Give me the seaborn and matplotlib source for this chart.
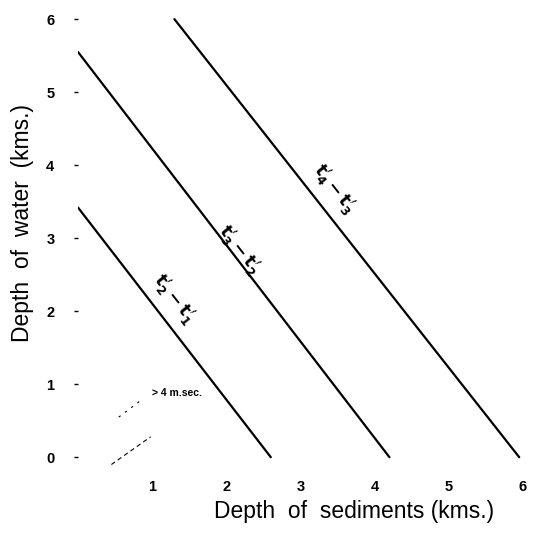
import matplotlib
matplotlib.use("Agg")
import matplotlib.pyplot as plt
import pandas as pd
import seaborn as sns

# end points of the three travel-time difference lines (sediments km, water km)
line_names = ["t2-t1", "t3-t2", "t4-t3"]
sed_km = [[0.0, 2.6], [0.0, 4.2], [1.3, 5.95]]
water_km = [[3.42, 0.0], [5.55, 0.0], [6.0, 0.0]]

line_labels = [r"$t_2' - t_1'$", r"$t_3' - t_2'$", r"$t_4' - t_3'$"]
label_x = [1.3, 2.17, 3.45]
label_y = [2.17, 2.84, 3.67]

ticks = [0, 1, 2, 3, 4, 5, 6]

sns.set_style("white")
plt.rcParams["font.family"] = ["Liberation Sans", "DejaVu Sans"]
plt.rcParams["text.color"] = "black"
plt.rcParams["xtick.color"] = "black"
plt.rcParams["ytick.color"] = "black"
plt.rcParams["axes.labelcolor"] = "black"
plt.rcParams["mathtext.default"] = "bf"

rows = []
for name, xs, ys in zip(line_names, sed_km, water_km):
    for x, y in zip(xs, ys):
        rows.append({"line": name, "sediments": x, "water": y})
df = pd.DataFrame(rows)

fig = plt.figure(figsize=(5.38, 5.38), dpi=100)
ax = fig.add_axes([0.145, 0.123, 0.827, 0.855])

sns.lineplot(data=df, x="sediments", y="water", units="line", estimator=None,
             color="black", lw=1.6, ax=ax, legend=False)

for txt, x, y in zip(line_labels, label_x, label_y):
    ax.text(x, y, txt, rotation=-52, ha="center", va="center", fontsize=12.5,
            color="black", rotation_mode="anchor")

ax.text(1.0, 0.88, "> 4 m.sec.", fontsize=7.5, fontweight="bold",
        ha="left", va="center")
# faint dashed boundary near origin
ax.plot([0.45, 0.98], [-0.1, 0.28], color="black", lw=0.8, ls=(0, (4, 3)))
ax.plot([0.55, 0.85], [0.55, 0.78], color="black", lw=0.8, ls=(0, (2, 5)))

ax.set_xlim(0, 6)
ax.set_ylim(-0.2, 6.1)
ax.set_xticks(ticks[1:])
ax.set_yticks(ticks)
sns.despine(ax=ax, left=True, bottom=True)
ax.tick_params(axis="y", left=True, length=3, width=1, pad=14, labelsize=10.5)
ax.tick_params(axis="x", bottom=False, length=0, pad=6, labelsize=10.5)
for lab in ax.get_xticklabels() + ax.get_yticklabels():
    lab.set_fontweight("bold")

ax.set_xlabel("Depth  of  sediments (kms.)", fontsize=16.5)
ax.set_ylabel("Depth  of  water  (kms.)", fontsize=16.5)
ax.xaxis.set_label_coords(0.62, -0.062)
ax.yaxis.set_label_coords(-0.1, 0.54)

fig.savefig("out.png", dpi=100)
